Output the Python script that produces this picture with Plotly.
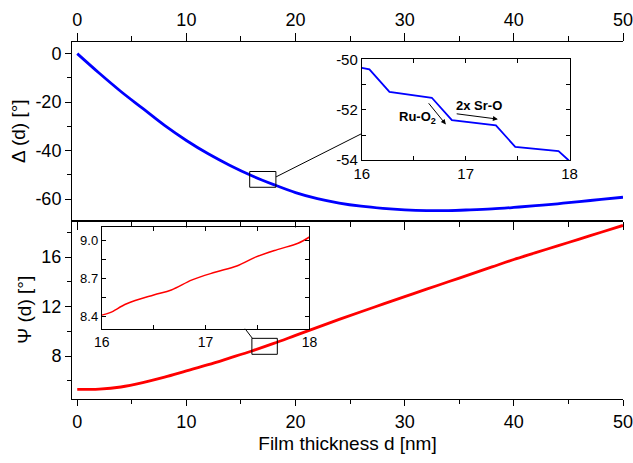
import plotly.graph_objects as go

# ---- data ----
d_main = [0, 2, 4, 6, 8, 10, 12, 14, 16, 18, 20, 22, 24, 26, 28, 30, 32, 34, 36, 38, 40, 42, 44, 46, 48, 50]
delta_main = [0, -8.0, -15.6, -22.6, -29.6, -35.8, -41.3, -46.1, -50.35, -54.0, -57.3, -59.8, -61.6, -62.9,
              -63.8, -64.4, -64.7, -64.7, -64.4, -64.0, -63.4, -62.7, -61.9, -61.0, -60.1, -59.2]
psi_main = [5.3, 5.33, 5.5, 5.85, 6.3, 6.8, 7.3, 7.85, 8.41, 9.02, 9.67, 10.32, 10.96, 11.58, 12.19, 12.8,
            13.4, 14.0, 14.6, 15.2, 15.8, 16.35, 16.9, 17.45, 18.0, 18.55]

d_inset_delta = [16.0, 16.073, 16.266, 16.674, 16.867, 17.291, 17.477, 17.894, 18.0]
delta_inset = [-50.33, -50.39, -51.29, -51.52, -52.41, -52.62, -53.47, -53.64, -54.04]

d_inset_psi = [16.0, 16.08, 16.24, 16.50, 16.67, 16.87, 17.09, 17.30, 17.48, 17.69, 17.89, 18.0]
psi_inset = [8.41, 8.43, 8.50, 8.57, 8.61, 8.69, 8.75, 8.80, 8.87, 8.93, 8.98, 9.03]

x_ticks = [0, 10, 20, 30, 40, 50]
x_minor = [5, 15, 25, 35, 45]
delta_ticks = [0, -20, -40, -60]
delta_minor = [-10, -30, -50]
psi_ticks = [8, 12, 16]
psi_minor = [6, 10, 14, 18]

FONT = "Arial, Liberation Sans, sans-serif"
BLUE = "#0000ff"
RED = "#ff0000"
TICK = 18
TITLE = 19

fig = go.Figure()
fig.add_trace(go.Scatter(x=d_main, y=psi_main, xaxis="x", yaxis="y", mode="lines",
                         line=dict(color=RED, width=2.8, shape="spline"), showlegend=False))
fig.add_trace(go.Scatter(x=d_main, y=delta_main, xaxis="x2", yaxis="y2", mode="lines",
                         line=dict(color=BLUE, width=2.8, shape="spline"), showlegend=False))
fig.add_trace(go.Scatter(x=d_inset_delta, y=delta_inset, xaxis="x3", yaxis="y3", mode="lines",
                         line=dict(color=BLUE, width=1.8), showlegend=False))
fig.add_trace(go.Scatter(x=d_inset_psi, y=psi_inset, xaxis="x4", yaxis="y4", mode="lines",
                         line=dict(color=RED, width=1.5, shape="spline"), showlegend=False))

XR = [-0.48, 50.0]
split = 0.5

common = dict(showline=True, linecolor="black", linewidth=1, showgrid=False, zeroline=False,
              tickcolor="black", automargin=False, ticklabeloverflow="allow",
              tickfont=dict(family=FONT, size=TICK, color="black"))

fig.update_layout(
    width=633, height=463,
    margin=dict(l=72, r=10, t=42, b=64),
    paper_bgcolor="white", plot_bgcolor="white",
    font=dict(family=FONT, color="black"),
    xaxis=dict(domain=[0, 1], anchor="y", range=XR, side="bottom", ticks="outside", ticklen=6,
               tickvals=x_ticks, ticktext=[str(v) for v in x_ticks], mirror=True,
               minor=dict(tickvals=x_minor, ticks="outside", ticklen=4, tickcolor="black"),
               title=dict(text="Film thickness d [nm]", font=dict(family=FONT, size=TITLE), standoff=6),
               **common),
    yaxis=dict(domain=[0, split], anchor="x", range=[4.53, 18.95], ticks="outside", ticklen=6,
               tickvals=psi_ticks, ticktext=[str(v) for v in psi_ticks],
               minor=dict(tickvals=psi_minor, ticks="outside", ticklen=4, tickcolor="black"),
               title=dict(text="Ψ (d) [°]", font=dict(family=FONT, size=TITLE), standoff=4),
               **common),
    xaxis2=dict(domain=[0, 1], anchor="y2", range=XR, side="top", ticks="outside", ticklen=8,
                tickvals=x_ticks, ticktext=[str(v) for v in x_ticks], mirror="ticks",
                minor=dict(tickvals=x_minor, ticks="outside", ticklen=5, tickcolor="black"),
                **common),
    yaxis2=dict(domain=[split, 1], anchor="x2", range=[-68.8, 4.8], ticks="outside", ticklen=6,
                tickvals=delta_ticks, ticktext=[str(v) for v in delta_ticks],
                minor=dict(tickvals=delta_minor, ticks="outside", ticklen=4, tickcolor="black"),
                title=dict(text="Δ (d) [°]", font=dict(family=FONT, size=TITLE), standoff=4),
                **common),
    yaxis5=dict(overlaying="y", anchor="x", side="right", range=[4.53, 18.95], ticks="inside",
                ticklen=6, tickvals=psi_ticks, showticklabels=False,
                minor=dict(tickvals=psi_minor, ticks="inside", ticklen=4, tickcolor="black"),
                **common),
    yaxis6=dict(overlaying="y2", anchor="x2", side="right", range=[-68.8, 4.8], ticks="inside",
                ticklen=6, tickvals=delta_ticks, showticklabels=False,
                minor=dict(tickvals=delta_minor, ticks="inside", ticklen=4, tickcolor="black"),
                **common),
)

inset_common = dict(showline=True, linecolor="black", linewidth=1, showgrid=False, zeroline=False,
                    tickcolor="black", mirror="ticks", ticks="inside", automargin=False,
                    ticklabeloverflow="allow")

fig.update_layout(
    xaxis3=dict(domain=[0.526, 0.903], anchor="y3", range=[16, 18], tickvals=[16, 17, 18],
                ticklen=4, minor=dict(tickvals=[16.5, 17.5], ticks="inside", ticklen=4, tickcolor="black"),
                tickfont=dict(family=FONT, size=15, color="black"), **inset_common),
    yaxis3=dict(domain=[0.669, 0.951], anchor="x3", range=[-54, -50], tickvals=[-50, -52, -54],
                ticktext=["-50", "-52", "-54"], ticklen=4,
                minor=dict(tickvals=[-51, -53], ticks="inside", ticklen=4, tickcolor="black"),
                tickfont=dict(family=FONT, size=15, color="black"), **inset_common),
    xaxis4=dict(domain=[0.054, 0.431], anchor="y4", range=[16, 18], tickvals=[16, 17, 18],
                ticklen=4, minor=dict(tickvals=[16.5, 17.5], ticks="inside", ticklen=4, tickcolor="black"),
                tickfont=dict(family=FONT, size=14, color="black"), **inset_common),
    yaxis4=dict(domain=[0.1968, 0.4806], anchor="x4", range=[8.302, 9.106], tickvals=[8.4, 8.7, 9.0],
                ticktext=["8.4", "8.7", "9.0"], ticklen=4,
                minor=dict(tickvals=[8.55, 8.85], ticks="inside", ticklen=4, tickcolor="black"),
                tickfont=dict(family=FONT, size=13, color="black"), **inset_common),
)

# zoom boxes and connectors
fig.add_shape(type="rect", xref="x2", yref="y2", x0=15.8, x1=18.2, y0=-55.1, y1=-48.6,
              line=dict(color="black", width=1))
fig.add_shape(type="rect", xref="x", yref="y", x0=16.0, x1=18.33, y0=8.14, y1=9.43,
              line=dict(color="black", width=1))
fig.add_shape(type="line", xref="paper", yref="paper", x0=0.3704, y0=0.6222, x1=0.5261, y1=0.7436,
              line=dict(color="black", width=1))
fig.add_shape(type="line", xref="paper", yref="paper", x0=0.3141, y0=0.1968, x1=0.3274, y1=0.1699,
              line=dict(color="black", width=1))

# annotations in top inset
fig.add_annotation(xref="x3", yref="y3", x=16.54, y=-52.29, text="<b>Ru-O<sub>2</sub></b>",
                   showarrow=False, font=dict(family=FONT, size=13, color="black"))
fig.add_annotation(xref="x3", yref="y3", x=17.13, y=-51.82, text="<b>2x Sr-O</b>",
                   showarrow=False, font=dict(family=FONT, size=13, color="black"))
fig.add_annotation(xref="x3", yref="y3", axref="x3", ayref="y3", x=16.809, y=-52.58,
                   ax=16.632, ay=-51.68, text="", showarrow=True, arrowhead=2, arrowsize=1,
                   arrowwidth=1, arrowcolor="black")
fig.add_annotation(xref="x3", yref="y3", axref="x3", ayref="y3", x=17.31, y=-52.37,
                   ax=16.899, ay=-52.15, text="", showarrow=True, arrowhead=2, arrowsize=1,
                   arrowwidth=1, arrowcolor="black")

fig.write_html("out.html")
